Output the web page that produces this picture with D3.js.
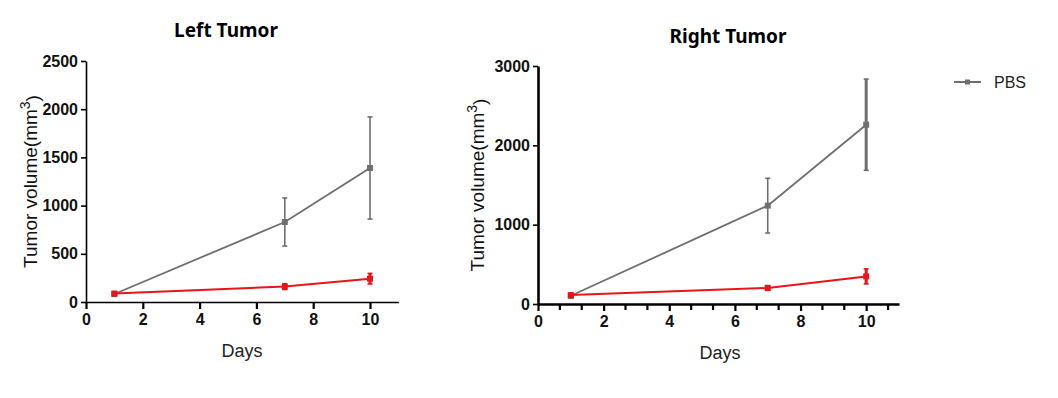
<!DOCTYPE html>
<html>
<head>
<meta charset="utf-8">
<script src="https://cdn.jsdelivr.net/npm/d3@7"></script>
<style>
  body { margin: 0; background: #fff; }
  svg { display: block; }
</style>
</head>
<body>
<svg id="chart" width="1058" height="398"></svg>
<script>
// data
const days = [1, 7, 10];
const left_pbs = [83, 830, 1390];
const left_pbs_err = [15, 250, 530];
const left_treat = [88, 160, 242];
const left_treat_err = [10, 30, 55];
const right_pbs = [104, 1240, 2260];
const right_pbs_err = [30, 345, 575];
const right_treat = [112, 202, 348];
const right_treat_err = [15, 30, 95];

const x_ticks = [0, 2, 4, 6, 8, 10];
const left_y_ticks = [0, 500, 1000, 1500, 2000, 2500];
const right_y_ticks = [0, 1000, 2000, 3000];
const legend_names = ["PBS"];

const grey = "#6e6e6e";
const red = "#e8141b";

const svg = d3.select("#chart");

// panel setup
const panels = [
    {
        title: "Left Tumor",
        title_x: 226, title_y: 37,
        x0: 86, x1: 398.4, y0: 302, y1: 61,
        y_max: 2500, y_ticks: left_y_ticks,
        pbs: left_pbs, pbs_err: left_pbs_err,
        treat: left_treat, treat_err: left_treat_err,
        axis_w: 1.6, y_font: "bold 16px 'Liberation Sans Narrow', 'Liberation Sans', Arial",
        minor: false, label_x: 30, days_x: 242, days_y: 357
    },
    {
        title: "Right Tumor",
        title_x: 728, title_y: 43,
        x0: 538, x1: 899, y0: 304, y1: 66,
        y_max: 3000, y_ticks: right_y_ticks,
        pbs: right_pbs, pbs_err: right_pbs_err,
        treat: right_treat, treat_err: right_treat_err,
        axis_w: 2.6, y_font: "bold 16px 'Liberation Sans', Arial",
        minor: true, label_x: 477, days_x: 720, days_y: 359
    }
];

panels.forEach((p) => {
    const g = svg.append("g");
    const x = d3.scaleLinear().domain([0, 11]).range([p.x0, p.x1]);
    const y = d3.scaleLinear().domain([0, p.y_max]).range([p.y0, p.y1]);

    // title
    g.append("text")
        .attr("x", p.title_x).attr("y", p.title_y)
        .attr("text-anchor", "middle")
        .style("font", "bold 19px 'Noto Sans', 'DejaVu Sans', sans-serif")
        .attr("fill", "#000")
        .text(p.title);

    // y axis
    const y_axis = g.append("g")
        .attr("transform", `translate(${p.x0},0)`)
        .call(d3.axisLeft(y).tickValues(p.y_ticks).tickFormat(d3.format("d"))
            .tickSize(5).tickPadding(3).tickSizeOuter(0));
    y_axis.select(".domain").attr("stroke-width", p.axis_w);
    y_axis.selectAll(".tick line").attr("stroke-width", 1.6);
    y_axis.selectAll("text").style("font", p.y_font).attr("fill", "#111");

    // x axis
    const x_axis = g.append("g")
        .attr("transform", `translate(0,${p.y0})`)
        .call(d3.axisBottom(x).tickValues(x_ticks).tickSize(7).tickPadding(5).tickSizeOuter(0));
    x_axis.select(".domain").attr("stroke-width", p.axis_w);
    x_axis.selectAll(".tick line").attr("stroke-width", 2.2);
    x_axis.selectAll("text").style("font", "bold 16px 'Liberation Sans', Arial").attr("fill", "#111");

    if (p.minor) {
        // minor ticks, two between each pair of labels
        const minor_vals = d3.range(1, 17).filter((i) => i % 3 !== 0).map((i) => i * 2 / 3);
        g.append("g")
            .selectAll("line")
            .data(minor_vals)
            .join("line")
            .attr("x1", (d) => x(d)).attr("x2", (d) => x(d))
            .attr("y1", p.y0).attr("y2", p.y0 + 6)
            .attr("stroke", "#000").attr("stroke-width", 2.2);
    }

    // axis titles
    const yl = g.append("text")
        .attr("transform", `translate(${p.label_x},${(p.y0 + p.y1) / 2}) rotate(-90)`)
        .attr("text-anchor", "middle")
        .attr("dy", "0.35em")
        .style("font", "19px 'Liberation Sans', Arial")
        .attr("fill", "#111");
    yl.append("tspan").text("Tumor volume(mm");
    yl.append("tspan").attr("dy", "-0.45em").style("font-size", "14px").text("3");
    yl.append("tspan").attr("dy", "0.45em").text(")");

    g.append("text")
        .attr("x", p.days_x).attr("y", p.days_y)
        .attr("text-anchor", "middle")
        .style("font", "18px 'Liberation Sans', Arial")
        .attr("fill", "#222")
        .text("Days");

    // series
    const series = [
        { vals: p.pbs, err: p.pbs_err, color: grey, lw: 1.8, ew: 1.6 },
        { vals: p.treat, err: p.treat_err, color: red, lw: 2, ew: 3 }
    ];
    series.forEach((s) => {
        const pts = days.map((d, i) => ({ d, v: s.vals[i], e: s.err[i] }));
        const line = d3.line().x((q) => x(q.d)).y((q) => y(q.v));
        g.append("path")
            .datum(pts)
            .attr("fill", "none")
            .attr("stroke", s.color)
            .attr("stroke-width", s.lw)
            .attr("d", line);

        const eb = g.append("g").selectAll("g").data(pts).join("g");
        eb.append("line")
            .attr("x1", (q) => x(q.d)).attr("x2", (q) => x(q.d))
            .attr("y1", (q) => y(q.v - q.e)).attr("y2", (q) => y(q.v + q.e))
            .attr("stroke", s.color)
            .attr("stroke-width", (q, i) => (s.color === grey && p.minor && i === 2) ? 3 : s.ew);
        [-1, 1].forEach((sg) => {
            eb.append("line")
                .attr("x1", (q) => x(q.d) - 2.5).attr("x2", (q) => x(q.d) + 2.5)
                .attr("y1", (q) => y(q.v + sg * q.e)).attr("y2", (q) => y(q.v + sg * q.e))
                .attr("stroke", s.color).attr("stroke-width", 1.6);
        });
        eb.append("rect")
            .attr("x", (q) => x(q.d) - 3).attr("y", (q) => y(q.v) - 3)
            .attr("width", 6).attr("height", 6)
            .attr("fill", s.color);
    });
});

// legend
const lg = svg.append("g").attr("transform", "translate(954,82)");
legend_names.forEach((name, i) => {
    const row = lg.append("g").attr("transform", `translate(0,${i * 24})`);
    row.append("line").attr("x1", 0).attr("x2", 27).attr("y1", 0).attr("y2", 0)
        .attr("stroke", grey).attr("stroke-width", 2);
    row.append("rect").attr("x", 11).attr("y", -2.5).attr("width", 5).attr("height", 5).attr("fill", grey);
    row.append("text").attr("x", 40).attr("y", 0).attr("dy", "0.36em")
        .style("font", "16px 'Liberation Sans', Arial").attr("fill", "#222").text(name);
});
</script>
</body>
</html>
